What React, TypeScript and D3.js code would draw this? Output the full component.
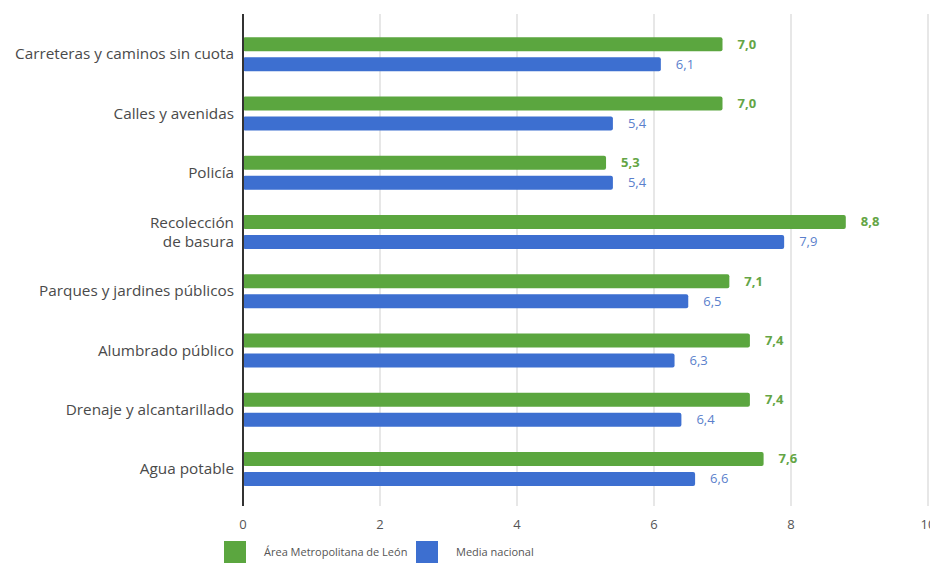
import React from "react";
import * as d3 from "d3";

const categories = [
  ["Carreteras y caminos sin cuota"],
  ["Calles y avenidas"],
  ["Policía"],
  ["Recolección", "de basura"],
  ["Parques y jardines públicos"],
  ["Alumbrado público"],
  ["Drenaje y alcantarillado"],
  ["Agua potable"],
];
const seriesNames = ["Área Metropolitana de León", "Media nacional"];
const leonValues = [7.0, 7.0, 5.3, 8.8, 7.1, 7.4, 7.4, 7.6];
const nacionalValues = [6.1, 5.4, 5.4, 7.9, 6.5, 6.3, 6.4, 6.6];
const xTicks = [0, 2, 4, 6, 8, 10];

const W = 930;
const H = 567;
const GREEN = "#5ba63f";
const BLUE = "#3d6fd0";
const GREEN_TXT = "#64a545";
const BLUE_TXT = "#5b7fcc";

export default function App() {
  const x = d3.scaleLinear().domain([0, 10]).range([243, 928]);
  const y = d3
    .scaleBand<number>()
    .domain(d3.range(categories.length))
    .range([24.5, 498.5]);
  const fmt = (v: number) => v.toFixed(1).replace(".", ",");
  const barH = 14;
  const font = "'Open Sans', 'DejaVu Sans', sans-serif";

  return (
    <svg
      width={W}
      height={H}
      style={{ position: "absolute", left: 0, top: 0, background: "#fff" }}
      fontFamily={font}
    >
      {xTicks.map((t) =>
        t === 0 ? null : (
          <line key={"g" + t} x1={x(t)} x2={x(t)} y1={14} y2={506} stroke="#cfcfcf" strokeWidth={1} />
        )
      )}
      {categories.map((c, i) => {
        const cy = (y(i) as number) + y.bandwidth() / 2;
        return (
          <g key={i}>
            <rect x={x(0)} y={cy - 17} width={x(leonValues[i]) - x(0)} height={barH} rx={2} fill={GREEN} />
            <rect x={x(0)} y={cy + 3} width={x(nacionalValues[i]) - x(0)} height={barH} rx={2} fill={BLUE} />
            <text x={x(leonValues[i]) + 15} y={cy - 10} dy="0.35em" fontSize={13} fontWeight="bold" fill={GREEN_TXT}>
              {fmt(leonValues[i])}
            </text>
            <text x={x(nacionalValues[i]) + 15} y={cy + 10} dy="0.35em" fontSize={13} fill={BLUE_TXT}>
              {fmt(nacionalValues[i])}
            </text>
            {c.map((line, j) => (
              <text
                key={j}
                x={234}
                y={cy + (j - (c.length - 1) / 2) * 19}
                dy="0.35em"
                textAnchor="end"
                fontSize={15.3}
                fill="#4a4a4a"
              >
                {line}
              </text>
            ))}
          </g>
        );
      })}
      <line x1={x(0)} x2={x(0)} y1={14} y2={506} stroke="#333" strokeWidth={2} />
      {xTicks.map((t) => (
        <text key={"t" + t} x={x(t)} y={524} dy="0.35em" textAnchor="middle" fontSize={13} fill="#555">
          {t}
        </text>
      ))}
      <rect x={224} y={541} width={22} height={22} fill={GREEN} />
      <text x={264} y={552} dy="0.35em" fontSize={11} fill="#555">
        {seriesNames[0]}
      </text>
      <rect x={416} y={541} width={22} height={22} fill={BLUE} />
      <text x={456} y={552} dy="0.35em" fontSize={11} fill="#555">
        {seriesNames[1]}
      </text>
    </svg>
  );
}
